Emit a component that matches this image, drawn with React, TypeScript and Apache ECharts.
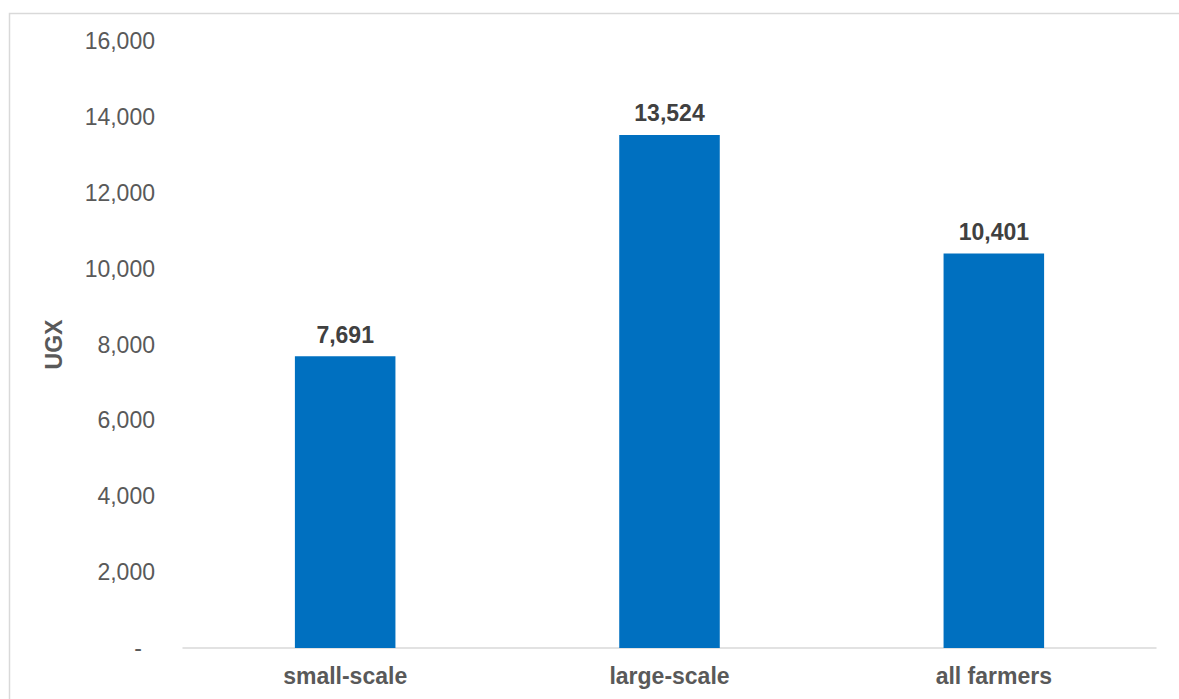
import React, { useEffect, useRef } from "react";
import * as echarts from "echarts";

const categories = ["small-scale", "large-scale", "all farmers"];
const values = [7691, 13524, 10401];
const yMin = 0;
const yMax = 16000;
const yInterval = 2000;
const yAxisName = "UGX";

export default function App() {
  const ref = useRef<HTMLDivElement>(null);
  useEffect(() => {
    document.body.style.margin = "0";
    const chart = echarts.init(ref.current!, null, { renderer: "svg" });
    const font = "'Liberation Sans', Arial, sans-serif";
    chart.setOption({
      animation: false,
      backgroundColor: "#ffffff",
      graphic: [
        {
          type: "rect",
          left: 7,
          top: 11,
          shape: { x: 0, y: 0, width: 1200, height: 720 },
          style: { fill: "none", stroke: "#D9D9D9", lineWidth: 1.5 },
          silent: true,
        },
      ],
      grid: { left: 183, right: 23, top: 41, bottom: 51, containLabel: false },
      xAxis: {
        type: "category",
        data: categories,
        axisLine: { lineStyle: { color: "#D9D9D9", width: 1.5 } },
        axisTick: { show: false },
        axisLabel: {
          color: "#595959",
          fontFamily: font,
          fontSize: 23,
          fontWeight: "bold",
          margin: 16,
        },
      },
      yAxis: {
        type: "value",
        min: yMin,
        max: yMax,
        interval: yInterval,
        name: yAxisName,
        nameLocation: "middle",
        nameGap: 118,
        nameRotate: 90,
        nameTextStyle: {
          color: "#595959",
          fontFamily: font,
          fontSize: 23,
          fontWeight: "bold",
        },
        splitLine: { show: false },
        axisLine: { show: false },
        axisTick: { show: false },
        axisLabel: {
          color: "#595959",
          fontFamily: font,
          fontSize: 23,
          margin: 28,
          formatter: (v: number) =>
            v === 0 ? "{d|-}" : v.toLocaleString("en-US"),
          rich: {
            d: {
              color: "#595959",
              fontFamily: font,
              fontSize: 23,
              padding: [0, 13, 0, 0],
            },
          },
        },
      },
      series: [
        {
          type: "bar",
          data: values,
          barWidth: "31%",
          itemStyle: { color: "#0070C0" },
          label: {
            show: true,
            position: "top",
            distance: 10,
            color: "#404040",
            fontFamily: font,
            fontSize: 23,
            fontWeight: "bold",
            formatter: (p: any) => Number(p.value).toLocaleString("en-US"),
          },
        },
      ],
    });
    return () => chart.dispose();
  }, []);
  return (
    <div
      ref={ref}
      style={{ position: "fixed", left: 0, top: 0, width: 1179, height: 699 }}
    />
  );
}
